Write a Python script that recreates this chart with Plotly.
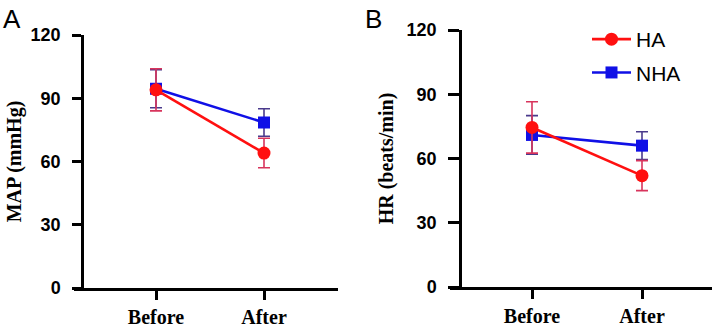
import plotly.graph_objects as go

W, H = 720, 327

categories = ["Before", "After"]
cat_pos = [0, 1]
y_ticks = [0, 30, 60, 90, 120]

# Panel A: MAP (mmHg)
map_ha = [94, 64]
map_ha_err = [10, 7]
map_nha = [94.5, 78.5]
map_nha_err = [9, 6.5]

# Panel B: HR (beats/min)
hr_ha = [74.5, 52]
hr_ha_err = [12, 7]
hr_nha = [71, 66]
hr_nha_err = [9, 6.5]

RED = "#ff1010"
BLUE = "#1010e6"
RED_ERR = "#d8345c"
BLUE_ERR = "#4a3a8c"

fig = go.Figure()

def add_series(y, err, name, color, ecolor, symbol, msize, xa, ya, showlegend, rank):
    fig.add_trace(go.Scatter(
        x=cat_pos, y=y, name=name, mode="lines+markers",
        line=dict(color=color, width=2.6),
        marker=dict(color=color, symbol=symbol, size=msize),
        error_y=dict(type="data", array=err, visible=True, color=ecolor,
                     thickness=1.6, width=6),
        xaxis=xa, yaxis=ya, showlegend=showlegend, legendrank=rank,
        legendgroup=name,
    ))

add_series(map_nha, map_nha_err, "NHA", BLUE, BLUE_ERR, "square", 12, "x", "y", False, 2)
add_series(map_ha, map_ha_err, "HA", RED, RED_ERR, "circle", 13, "x", "y", False, 1)
add_series(hr_nha, hr_nha_err, "NHA", BLUE, BLUE_ERR, "square", 12, "x2", "y2", True, 2)
add_series(hr_ha, hr_ha_err, "HA", RED, RED_ERR, "circle", 13, "x2", "y2", True, 1)

def px_x(p):
    return p / W

def px_y(p):
    return 1 - p / H

tickfont_y = dict(family="Liberation Sans", size=18, color="black", weight="bold")
tickfont_x = dict(family="Liberation Serif", size=20, color="black", weight="bold")
title_font = dict(family="Liberation Serif", size=20, color="black", weight="bold")

common_y = dict(range=[0, 120], tickvals=y_ticks, showline=True, linecolor="black",
                linewidth=2.5, ticks="outside", tickwidth=2.5, tickcolor="black",
                showgrid=False, zeroline=False, tickfont=tickfont_y, anchor="free",
                ticklabelstandoff=8, automargin=False)
common_x = dict(tickvals=cat_pos, ticktext=categories, showline=True, linecolor="black",
                linewidth=2.5, ticks="outside", ticklen=9, tickwidth=2.5, tickcolor="black",
                showgrid=False, zeroline=False, tickfont=tickfont_x, ticklabelstandoff=0,
                automargin=False)

fig.update_layout(
    width=W, height=H,
    margin=dict(l=0, r=0, t=0, b=0, autoexpand=False),
    paper_bgcolor="white", plot_bgcolor="white",
    xaxis=dict(common_x, domain=[px_x(74), px_x(338)], anchor="y",
               range=[(74 - 156) / 108, (338 - 156) / 108]),
    yaxis=dict(common_y, domain=[px_y(288), px_y(35)], position=px_x(82), ticklen=9,
               title=dict(text="MAP (mmHg)", font=title_font, standoff=2)),
    xaxis2=dict(common_x, domain=[px_x(450), px_x(712)], anchor="y2",
                range=[(450 - 532) / 110, (712 - 532) / 110]),
    yaxis2=dict(common_y, domain=[px_y(287), px_y(30)], position=px_x(460), ticklen=11,
                title=dict(text="HR (beats/min)", font=title_font, standoff=6)),
    legend=dict(x=px_x(587), y=px_y(19), xanchor="left", yanchor="top",
                font=dict(family="Liberation Sans", size=21, color="black"),
                bgcolor="rgba(0,0,0,0)", tracegroupgap=3, itemwidth=39),
    showlegend=True,
    annotations=[
        dict(text="A", x=px_x(1), y=px_y(2), xref="paper", yref="paper",
             xanchor="left", yanchor="top", showarrow=False,
             font=dict(family="Liberation Sans", size=26, color="black")),
        dict(text="B", x=px_x(363), y=px_y(2), xref="paper", yref="paper",
             xanchor="left", yanchor="top", showarrow=False,
             font=dict(family="Liberation Sans", size=26, color="black")),
    ],
)

fig.write_html("out.html", config={"displayModeBar": False},
               post_script="document.body.style.margin='0';document.body.style.padding='0';document.body.style.overflow='hidden';")
